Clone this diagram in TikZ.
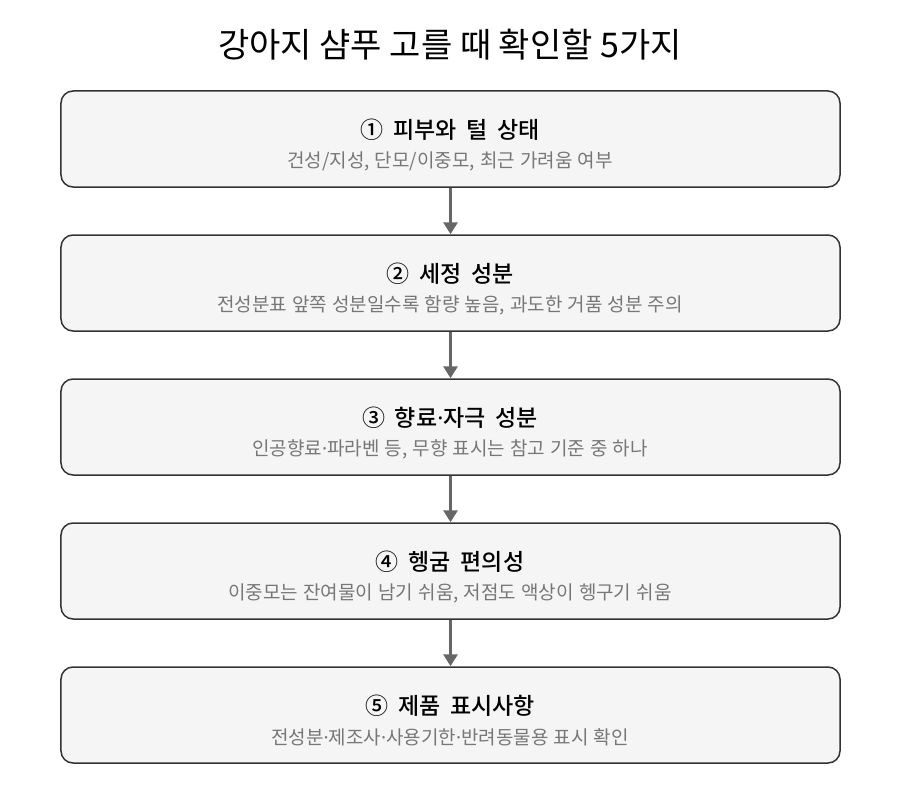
\documentclass[tikz,border=0pt]{standalone}
\usepackage{fontspec}
\setmainfont{Noto Sans CJK KR}
\newfontfamily\headfont{Noto Sans CJK KR}[UprightFont=* Medium,WordSpace=1.9]
\newfontfamily\subfont{Noto Sans CJK KR}[WordSpace=1.2]
\newfontfamily\latinfont{Noto Sans}
\newcommand{\md}{{\latinfont ·}}
\usetikzlibrary{arrows.meta}
\definecolor{boxborder}{HTML}{333333}
\definecolor{boxfill}{HTML}{F5F5F5}
\definecolor{arrowgray}{HTML}{666666}
\definecolor{subgray}{HTML}{777777}
\begin{document}
\begin{tikzpicture}[x=1bp,y=-1bp,
  stepbox/.style={draw=boxborder,fill=boxfill,line width=1.5bp,rounded corners=12bp,minimum width=779bp,minimum height=96bp,inner sep=0pt},
  headtxt/.style={font=\headfont\fontsize{23bp}{27bp}\selectfont,text=black},
  subtxt/.style={font=\subfont\fontsize{19bp}{23bp}\selectfont,text=subgray},
  flow/.style={draw=arrowgray,line width=3bp,-{Triangle[length=12bp,width=14bp]}}]
\useasboundingbox (0,0) rectangle (900,804);
\node[font=\fontsize{34bp}{40bp}\selectfont] (title) at (450,45) {강아지 샴푸 고를 때 확인할 5가지};
\foreach \i/\h/\s in {1/{① 피부와 털 상태}/{건성/지성, 단모/이중모, 최근 가려움 여부},
  2/{② 세정 성분}/{전성분표 앞쪽 성분일수록 함량 높음, 과도한 거품 성분 주의},
  3/{③ 향료\md 자극 성분}/{인공향료\md 파라벤 등, 무향 표시는 참고 기준 중 하나},
  4/{④ 헹굼 편의성}/{이중모는 잔여물이 남기 쉬움, 저점도 액상이 헹구기 쉬움},
  5/{⑤ 제품 표시사항}/{전성분\md 제조사\md 사용기한\md 반려동물용 표시 확인}}{
  \node[stepbox] (b\i) at (450.5,{139+144*(\i-1)}) {};
  \node[headtxt] (h\i) at (450,{130+144*(\i-1)}) {\h};
  \node[subtxt] (s\i) at (450,{161+144*(\i-1)}) {\s};
}
\foreach \a/\b in {1/2,2/3,3/4,4/5}{
  \draw[flow] (b\a.south) -- (b\b.north);
}
\end{tikzpicture}
\end{document}
